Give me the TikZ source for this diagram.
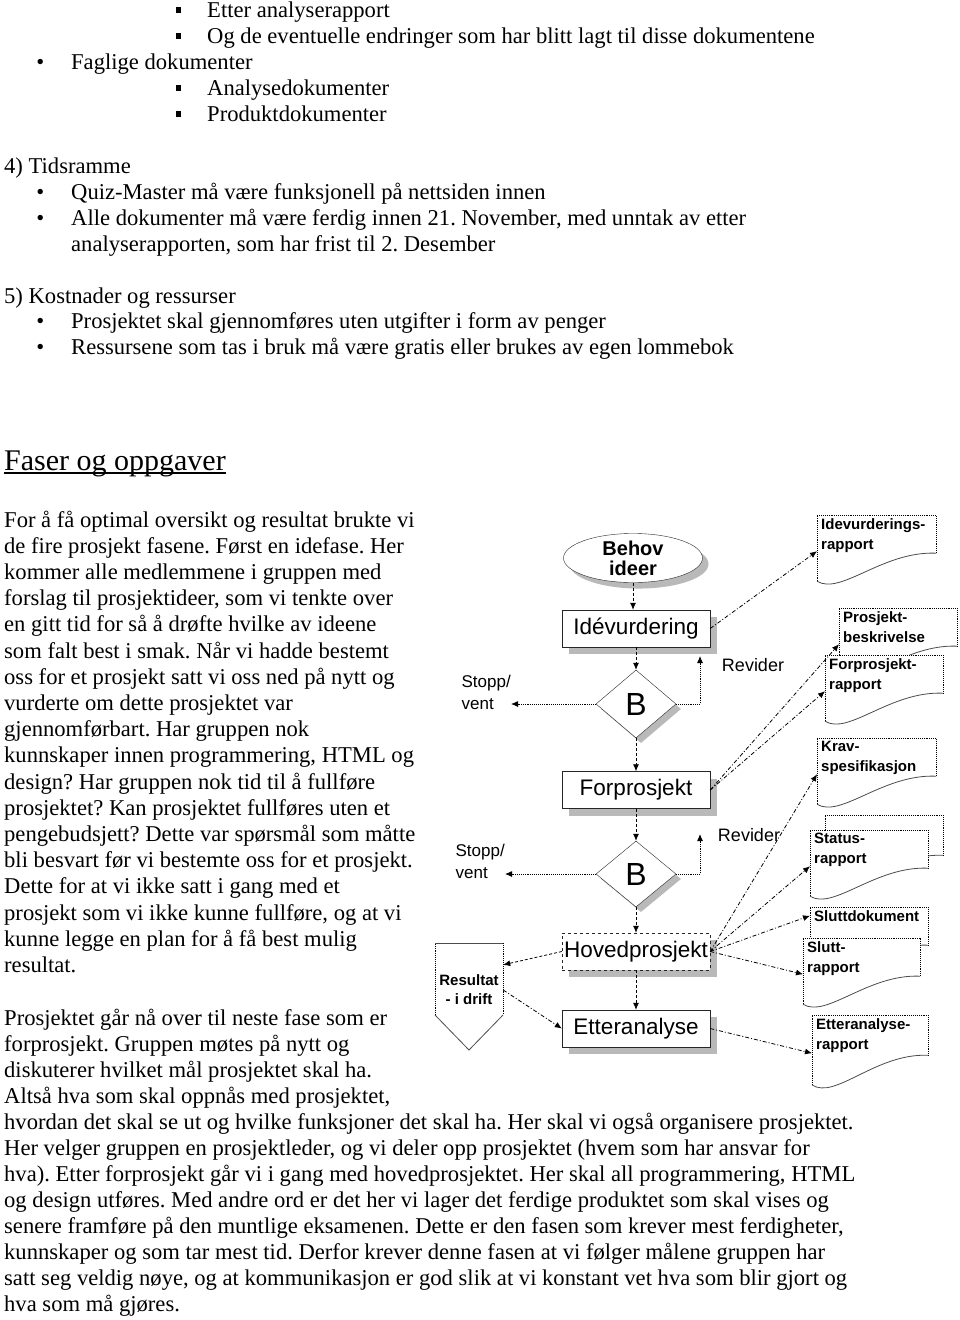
\documentclass[tikz,border=0pt]{standalone}
\usepackage{fontspec}
\setmainfont{Liberation Serif}
\newfontfamily\diagfont{Liberation Sans}
\usetikzlibrary{shapes.geometric,arrows.meta,calc,shadows}
\frenchspacing

\newcommand{\sqitem}{\llap{\rule[4pt]{5pt}{6.5pt}\hspace{26pt}}}
\newcommand{\rditem}{\llap{\textbullet\hspace{27pt}}}
% document symbol: name, x, y, width, height, text
\newcommand{\docnode}[6]{
  \path[fill=white] (#2,{#3+0.92*#5}) -- (#2,#3) -- ({#2+#4},#3) -- ({#2+#4},{#3+0.53*#5})
    .. controls ({#2+0.55*#4},{#3+0.5*#5}) and ({#2+0.2*#4},{#3+1.12*#5}) .. (#2,{#3+0.92*#5}) -- cycle;
  \draw[docline] (#2,{#3+0.92*#5}) -- (#2,#3) -- ({#2+#4},#3) -- ({#2+#4},{#3+0.53*#5});
  \draw[waveline] ({#2+#4},{#3+0.53*#5}) .. controls ({#2+0.55*#4},{#3+0.5*#5}) and ({#2+0.2*#4},{#3+1.12*#5}) .. (#2,{#3+0.92*#5});
  \node[docbox, minimum width=#4pt, minimum height=#5pt] (#1) at (#2,#3) {};
  \node[doctext] (#1t) at (#2,#3) {#6};
}

\begin{document}
\begin{tikzpicture}[x=1pt,y=-1pt]
\useasboundingbox (0,0) rectangle (960,1320);

\tikzstyle{txt}=[anchor=base west, inner sep=0, font=\fontsize{22.6}{26}\selectfont]
\tikzstyle{phase}=[draw=black!85, fill=white, minimum width=148pt, minimum height=37pt, inner sep=0,
  font=\diagfont\fontsize{22.5}{24}\selectfont,
  drop shadow={shadow xshift=7pt, shadow yshift=-7pt, fill=gray!55, opacity=1}]
\tikzstyle{decision}=[diamond, draw=black!85, fill=white, minimum width=80pt, minimum height=68pt, inner sep=0,
  font=\diagfont\fontsize{32}{32}\selectfont,
  drop shadow={shadow xshift=5pt, shadow yshift=-5pt, fill=gray!55, opacity=1}]
\tikzstyle{docbox}=[anchor=north west, inner sep=0]
\tikzstyle{doctext}=[anchor=north west, align=left, inner xsep=4pt, inner ysep=3pt,
  font=\diagfont\bfseries\fontsize{15}{20}\selectfont]
\tikzstyle{docline}=[densely dotted, line width=0.9pt]
\tikzstyle{waveline}=[black!70, line width=0.8pt]
\tikzstyle{flow}=[densely dashed, line width=0.8pt, -{Latex[length=7pt,width=6pt]}]
\tikzstyle{docarrow}=[dash pattern=on 4pt off 2pt on 1pt off 2pt, line width=0.8pt, -{Latex[length=7pt,width=6pt]}]
\tikzstyle{backarrow}=[densely dotted, line width=0.9pt, -{Latex[length=7pt,width=6pt]}]
\tikzstyle{sidetext}=[inner sep=0, align=left, font=\diagfont\fontsize{17}{22}\selectfont]

% text above the figure
\foreach \x/\y/\t [count=\i] in {
  207/17/{\sqitem Etter analyserapport},
  207/43/{\sqitem Og de eventuelle endringer som har blitt lagt til disse dokumentene},
  71/69/{\rditem Faglige dokumenter},
  207/95/{\sqitem Analysedokumenter},
  207/121/{\sqitem Produktdokumenter},
  4/173/{4) Tidsramme},
  71/199/{\rditem Quiz-Master må være funksjonell på nettsiden innen},
  71/225/{\rditem Alle dokumenter må være ferdig innen 21. November, med unntak av etter},
  71/251/{analyserapporten, som har frist til 2. Desember},
  4/303/{5) Kostnader og ressurser},
  71/328/{\rditem Prosjektet skal gjennomføres uten utgifter i form av penger},
  71/354/{\rditem Ressursene som tas i bruk må være gratis eller brukes av egen lommebok}}
  \node[txt] (top\i) at (\x,\y) {\t};

\node[anchor=base west, inner sep=0, font=\fontsize{30}{34}\selectfont] (head) at (4,470) {Faser og oppgaver};
\draw[line width=1.3pt] ([yshift=-3pt]head.base west) -- ([yshift=-3pt]head.base east);

\foreach \t [count=\i from 0] in {
  {For å få optimal oversikt og resultat brukte vi},
  {de fire prosjekt fasene. Først en idefase. Her},
  {kommer alle medlemmene i gruppen med},
  {forslag til prosjektideer, som vi tenkte over},
  {en gitt tid for så å drøfte hvilke av ideene},
  {som falt best i smak. Når vi hadde bestemt},
  {oss for et prosjekt satt vi oss ned på nytt og},
  {vurderte om dette prosjektet var},
  {gjennomførbart. Har gruppen nok},
  {kunnskaper innen programmering, HTML og},
  {design? Har gruppen nok tid til å fullføre},
  {prosjektet? Kan prosjektet fullføres uten et},
  {pengebudsjett? Dette var spørsmål som måtte},
  {bli besvart før vi bestemte oss for et prosjekt.},
  {Dette for at vi ikke satt i gang med et},
  {prosjekt som vi ikke kunne fullføre, og at vi},
  {kunne legge en plan for å få best mulig},
  {resultat.}}
  \node[txt] (idea\i) at (4,{527+26.2*\i}) {\t};

\foreach \t [count=\i from 0] in {
  {Prosjektet går nå over til neste fase som er},
  {forprosjekt. Gruppen møtes på nytt og},
  {diskuterer hvilket mål prosjektet skal ha.},
  {Altså hva som skal oppnås med prosjektet,},
  {hvordan det skal se ut og hvilke funksjoner det skal ha. Her skal vi også organisere prosjektet.},
  {Her velger gruppen en prosjektleder, og vi deler opp prosjektet (hvem som har ansvar for},
  {hva). Etter forprosjekt går vi i gang med hovedprosjektet. Her skal all programmering, HTML},
  {og design utføres. Med andre ord er det her vi lager det ferdige produktet som skal vises og},
  {senere framføre på den muntlige eksamenen. Dette er den fasen som krever mest ferdigheter,},
  {kunnskaper og som tar mest tid. Derfor krever denne fasen at vi følger målene gruppen har},
  {satt seg veldig nøye, og at kommunikasjon er god slik at vi konstant vet hva som blir gjort og},
  {hva som må gjøres.}}
  \node[txt] (pre\i) at (4,{1025+26*\i}) {\t};

% phases
\node[ellipse, draw=black!85, fill=white, minimum width=139pt, minimum height=47pt, inner sep=0, align=center,
  font=\diagfont\bfseries\fontsize{20}{20}\selectfont,
  drop shadow={shadow xshift=6pt, shadow yshift=-6pt, fill=gray!55, opacity=1}] (behov) at (633,558) {Behov\\ideer};
\node[phase] (ide) at (636,628.5) {Idévurdering};
\node[decision] (b1) at (636,704) {B};
\node[phase] (forp) at (636,790) {Forprosjekt};
\node[decision, minimum height=66pt] (b2) at (636,874) {B};
\node[phase, dashed] (hov) at (636,951.5) {Hovedprosjekt};
\node[phase] (etter) at (636,1028.5) {Etteranalyse};

\node[sidetext, anchor=east] (stop1) at (511,692) {Stopp/\\vent};
\node[sidetext, anchor=east] (stop2) at (505,861) {Stopp/\\vent};
\node[sidetext, font=\diagfont\fontsize{18}{22}\selectfont] (rev1) at (753,665) {Revider};
\node[sidetext, font=\diagfont\fontsize{18}{22}\selectfont] (rev2) at (749,835) {Revider};
\coordinate (rv1) at (700,656);
\coordinate (rv2) at (700,834);

% result
\path[fill=white] (435,943) -- (503,943) -- (503,1015) -- (469,1050) -- (435,1015) -- cycle;
\draw[docline] (435,1015) -- (435,943);
\draw[docline] (503,943) -- (503,1015);
\draw[waveline] (435,943) -- (503,943);
\draw[waveline] (503,1015) -- (469,1050) -- (435,1015);
\node[inner sep=0, minimum width=68pt, minimum height=50pt, align=center,
  font=\diagfont\bfseries\fontsize{15}{19}\selectfont] (res) at (469,990) {Resultat\\- i drift};

% documents
\docnode{idr}{817}{515}{119}{72}{Idevurderings-\\rapport}
\docnode{pbs}{839}{608}{118}{72}{Prosjekt-\\beskrivelse}
\docnode{fpr}{825}{655}{118}{72}{Forprosjekt-\\rapport}
\docnode{krav}{817}{738}{119}{72}{Krav-\\spesifikasjon}
\docnode{stb}{825}{815}{118}{76}{}
\docnode{st}{810}{830}{118}{72}{Status-\\rapport}
\docnode{sd}{810}{907}{118}{72}{Sluttdokument}
\docnode{sr}{803}{938}{117}{72}{Slutt-\\rapport}
\docnode{ear}{812}{1015}{116}{76}{Etteranalyse-\\rapport}

% flow
\draw[flow] (behov.south) -- (behov.south |- ide.north);
\draw[flow] (ide.south) -- (b1.north);
\draw[flow] (b1.south) -- (forp.north);
\draw[flow] (forp.south) -- (b2.north);
\draw[flow] (b2.south) -- (hov.north);
\draw[flow] (hov.south) -- (etter.north);

\draw[backarrow] (b1.east) -| (rv1);
\draw[backarrow] (b2.east) -| (rv2);
\draw[backarrow] (b1.west) -- (b1.west -| stop1.east);
\draw[backarrow] (b2.west) -- (b2.west -| stop2.east);

\draw[docarrow] (ide.east) -- (idr.west);
\draw[docarrow] (forp.east) -- (pbs.west);
\draw[docarrow] (forp.east) -- (fpr.west);
\draw[docarrow] (hov.east) -- (krav.west);
\draw[docarrow] (hov.east) -- (st.west);
\draw[docarrow] (hov.east) -- (sdt.west);
\draw[docarrow] (hov.east) -- (sr.west);
\draw[docarrow, densely dashed] (hov.west) -- (res.north east);
\draw[docarrow] (res.east) -- (etter.west);
\draw[docarrow] (etter.east) -- (ear.west);

\end{tikzpicture}
\end{document}
